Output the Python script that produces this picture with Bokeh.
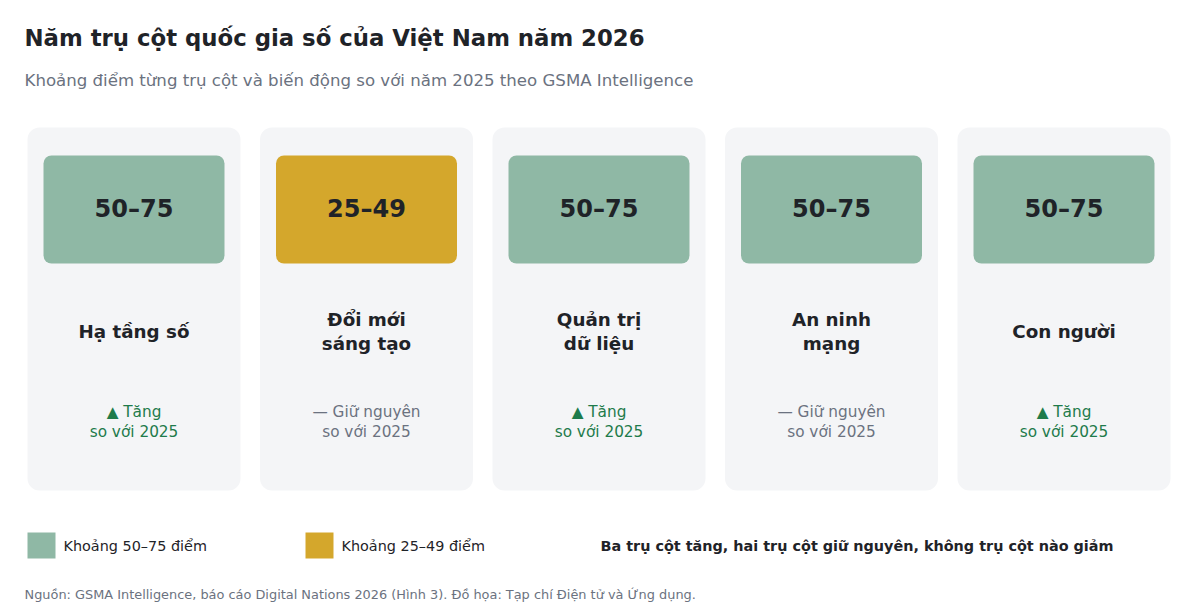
from bokeh.core.properties import value
from bokeh.embed import file_html
from bokeh.models import ColumnDataSource, Range1d
from bokeh.plotting import figure
from bokeh.resources import INLINE

# data
pillars = ["Hạ tầng số", "Đổi mới\nsáng tạo", "Quản trị\ndữ liệu", "An ninh\nmạng", "Con người"]
score_band = ["50–75", "25–49", "50–75", "50–75", "50–75"]
change = ["up", "flat", "up", "flat", "up"]

band_labels = ["Khoảng 50–75 điểm", "Khoảng 25–49 điểm"]
band_keys = ["50–75", "25–49"]
band_colors = ["#8fb8a5", "#d4a72c"]

title = "Năm trụ cột quốc gia số của Việt Nam năm 2026"
subtitle = "Khoảng điểm từng trụ cột và biến động so với năm 2025 theo GSMA Intelligence"
summary = "Ba trụ cột tăng, hai trụ cột giữ nguyên, không trụ cột nào giảm"
source_note = "Nguồn: GSMA Intelligence, báo cáo Digital Nations 2026 (Hình 3). Đồ họa: Tạp chí Điện tử và Ứng dụng."

change_text = {"up": ("▲ Tăng", "#1e7b4b"), "flat": ("— Giữ nguyên", "#6b7280")}

FONT = value("DejaVu Sans")
W, H = 1200, 611

p = figure(width=W, height=H, output_backend="svg", toolbar_location=None,
           x_range=Range1d(0, W), y_range=Range1d(H, 0), min_border=0)
p.axis.visible = False
p.grid.visible = False
p.outline_line_color = None
p.background_fill_color = "white"
p.border_fill_color = "white"

n = len(pillars)
card_w, pitch, x0 = 213, 232.5, 27
lefts = [x0 + i * pitch for i in range(n)]
rights = [l + card_w for l in lefts]
mids = [l + card_w / 2 for l in lefts]
color_of = dict(zip(band_keys, band_colors))

# cards
p.quad(left=lefts, right=rights, top=[127] * n, bottom=[490] * n,
       fill_color="#f4f5f7", line_color=None, border_radius=12)
p.quad(left=[l + 16 for l in lefts], right=[r - 16 for r in rights],
       top=[155] * n, bottom=[263] * n,
       fill_color=[color_of[b] for b in score_band], line_color=None, border_radius=8)
p.text(x=mids, y=[208] * n, text=score_band, text_font=FONT, text_font_style="bold",
       text_font_size="24px", text_color="#1f2328", text_align="center", text_baseline="middle")

# names (one or two lines)
nx, ny, nt = [], [], []
for m, name in zip(mids, pillars):
    lines = name.split("\n")
    start = 331 - (len(lines) - 1) * 12
    for k, ln in enumerate(lines):
        nx.append(m); ny.append(start + k * 24); nt.append(ln)
p.text(x=nx, y=ny, text=nt, text_font=FONT, text_font_style="bold", text_font_size="18.3px",
       text_color="#1f2328", text_align="center", text_baseline="middle")

# change vs 2025
cs = ColumnDataSource(dict(
    x=mids + mids,
    y=[411] * n + [431] * n,
    t=[change_text[c][0] for c in change] + ["so với 2025"] * n,
    c=[change_text[c][1] for c in change] * 2,
))
p.text(x="x", y="y", text="t", text_color="c", source=cs, text_font=FONT,
       text_font_size="15.3px", text_align="center", text_baseline="middle")

# title block
p.text(x=[24], y=[37], text=[title], text_font=FONT, text_font_style="bold",
       text_font_size="22.8px", text_color="#1f2328", text_baseline="middle")
p.text(x=[24], y=[80], text=[subtitle], text_font=FONT, text_font_size="16.6px",
       text_color="#6b7280", text_baseline="middle")

# legend
lx = [27, 305]
p.quad(left=lx, right=[x + 28 for x in lx], top=[532, 532], bottom=[558, 558],
       fill_color=band_colors, line_color=None)
p.text(x=[x + 36 for x in lx], y=[545, 545], text=band_labels, text_font=FONT,
       text_font_size="14.4px", text_color="#1f2328", text_baseline="middle")
p.text(x=[600], y=[545], text=[summary], text_font=FONT, text_font_style="bold",
       text_font_size="14.4px", text_color="#1f2328", text_baseline="middle")

p.text(x=[24], y=[594], text=[source_note], text_font=FONT, text_font_size="12.9px",
       text_color="#6b7280", text_baseline="middle")

open("out.html", "w").write(file_html(p, INLINE))
